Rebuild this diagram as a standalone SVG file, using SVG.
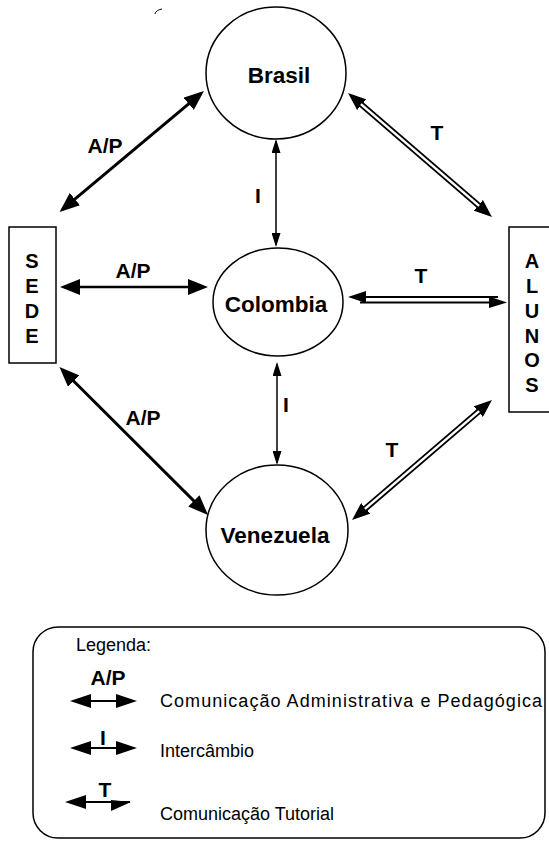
<svg xmlns="http://www.w3.org/2000/svg" width="549" height="843" viewBox="0 0 549 843">
<style>
  .node { fill: #fff; stroke: #000; stroke-width: 1.5; }
  .nt { font-family: "Liberation Sans", Arial, sans-serif; font-weight: bold; font-size: 22.5px; fill: #000; text-anchor: middle; }
  .vt { font-family: "Liberation Sans", Arial, sans-serif; font-weight: bold; font-size: 20px; fill: #000; text-anchor: middle; }
  .lbl { font-family: "Liberation Sans", Arial, sans-serif; font-weight: bold; font-size: 21px; fill: #000; text-anchor: middle; }
  .lt { font-family: "Liberation Sans", Arial, sans-serif; font-size: 18px; fill: #000; }
  .ap { stroke: #000; stroke-width: 3; fill: none; }
  .aph { stroke: #000; stroke-width: 2.5; fill: none; }
  .in { stroke: #000; stroke-width: 1.5; fill: none; }
  .tb { stroke: #000; stroke-width: 6; fill: none; }
  .tw { stroke: #fff; stroke-width: 2.5; fill: none; }
  .th { stroke: #000; stroke-width: 1.8; fill: none; }
  .lg { stroke: #000; stroke-width: 2; fill: none; }
</style>
<defs>
  <marker id="big" viewBox="0 0 20 16" refX="16" refY="8" markerWidth="20" markerHeight="16" markerUnits="userSpaceOnUse" orient="auto-start-reverse">
    <path d="M0,0 L20,8 L0,16 Z" fill="#000"/>
  </marker>
  <marker id="sm" viewBox="0 0 14 9" refX="12" refY="4.5" markerWidth="14" markerHeight="9" markerUnits="userSpaceOnUse" orient="auto-start-reverse">
    <path d="M0,0 L14,4.5 L0,9 Z" fill="#000"/>
  </marker>
  <marker id="tt" viewBox="0 0 18 14" refX="10" refY="7" markerWidth="18" markerHeight="14" markerUnits="userSpaceOnUse" orient="auto-start-reverse">
    <path d="M0,0 L18,7 L0,14 Z" fill="#000"/>
  </marker>
  <marker id="lgh" viewBox="0 0 21 14" refX="17" refY="7" markerWidth="21" markerHeight="14" markerUnits="userSpaceOnUse" orient="auto-start-reverse">
    <path d="M0,0 L21,7 L0,14 Z" fill="#000"/>
  </marker>
</defs>
<rect width="549" height="843" fill="#fff"/>
<path d="M155,14 Q156,10 162,9" fill="none" stroke="#000" stroke-width="1"/>

<g id="connectors">
  <line class="ap" x1="62.6" y1="209.4" x2="200.9" y2="93.6" marker-start="url(#big)" marker-end="url(#big)"/>
  <line class="in" x1="276" y1="141" x2="276" y2="245" marker-start="url(#sm)" marker-end="url(#sm)"/>
  <line class="tb" x1="354.1" y1="98.2" x2="485.9" y2="211.8" marker-start="url(#tt)" marker-end="url(#tt)"/>
  <line class="tw" x1="360.9" y1="104.1" x2="479.1" y2="205.9"/>
  <line class="aph" x1="64" y1="287" x2="204" y2="287" marker-start="url(#big)" marker-end="url(#big)"/>
  <line class="th" x1="362" y1="297" x2="498" y2="297"/>
  <line class="th" x1="360" y1="302.5" x2="492" y2="302.5"/>
  <polygon points="348,297 366,291 366,303" fill="#000"/>
  <polygon points="507,302.5 489,296.5 489,308" fill="#000"/>
  <line class="ap" x1="62.3" y1="369.8" x2="205.2" y2="512.2" marker-start="url(#big)" marker-end="url(#big)"/>
  <line class="in" x1="277" y1="364" x2="277" y2="463" marker-start="url(#sm)" marker-end="url(#sm)"/>
  <line class="tb" x1="358.1" y1="514.8" x2="485.9" y2="405.2" marker-start="url(#tt)" marker-end="url(#tt)"/>
  <line class="tw" x1="364.9" y1="508.9" x2="479.1" y2="411.1"/>
</g>

<g id="labels">
  <text class="lbl" x="105" y="153">A/P</text>
  <text class="lbl" x="258" y="203">I</text>
  <text class="lbl" x="437" y="140">T</text>
  <text class="lbl" x="133" y="278">A/P</text>
  <text class="lbl" x="421" y="283">T</text>
  <text class="lbl" x="143" y="425">A/P</text>
  <text class="lbl" x="286" y="412">I</text>
  <text class="lbl" x="392" y="457">T</text>
</g>

<g id="brasil">
  <ellipse class="node" cx="276" cy="73" rx="70" ry="66"/>
  <text class="nt" x="279" y="83">Brasil</text>
</g>
<g id="colombia">
  <ellipse class="node" cx="278" cy="302" rx="65" ry="54"/>
  <text class="nt" x="276" y="312">Colombia</text>
</g>
<g id="venezuela">
  <ellipse class="node" cx="277" cy="530" rx="71" ry="65"/>
  <text class="nt" x="275" y="543">Venezuela</text>
</g>
<g id="sede">
  <rect class="node" x="9" y="227" width="47" height="136"/>
  <text class="vt" x="32" y="268">S</text>
  <text class="vt" x="32" y="293">E</text>
  <text class="vt" x="32" y="318">D</text>
  <text class="vt" x="32" y="343">E</text>
</g>
<g id="alunos">
  <rect class="node" x="509" y="227" width="60" height="185"/>
  <text class="vt" x="532" y="268">A</text>
  <text class="vt" x="532" y="293">L</text>
  <text class="vt" x="532" y="318">U</text>
  <text class="vt" x="532" y="343">N</text>
  <text class="vt" x="532" y="367">O</text>
  <text class="vt" x="532" y="392">S</text>
</g>

<g id="legend">
  <rect x="33" y="627" width="512" height="211" rx="25" ry="25" fill="none" stroke="#000" stroke-width="1.5"/>
  <text class="lt" x="76" y="651">Legenda:</text>
  <text class="lbl" x="108" y="685">A/P</text>
  <line class="lg" x1="74" y1="701" x2="133" y2="701" marker-start="url(#lgh)" marker-end="url(#lgh)"/>
  <text class="lt" x="160" y="707" textLength="382" lengthAdjust="spacing">Comunicação Administrativa e Pedagógica</text>
  <text class="lbl" x="103" y="745">I</text>
  <line class="lg" x1="74" y1="748" x2="133" y2="748" marker-start="url(#lgh)" marker-end="url(#lgh)"/>
  <text class="lt" x="160" y="757">Intercâmbio</text>
  <text class="lbl" x="105" y="797">T</text>
  <line class="lg" x1="69" y1="802" x2="130" y2="802" marker-start="url(#lgh)"/>
  <polygon points="131,802 111,800 111,811" fill="#000"/>
  <text class="lt" x="160" y="820">Comunicação Tutorial</text>
</g>
</svg>
